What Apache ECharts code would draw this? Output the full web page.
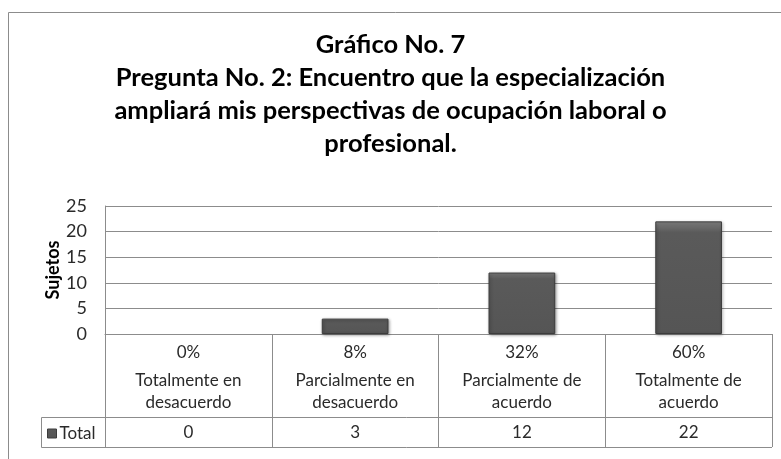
<!DOCTYPE html>
<html>
<head>
<meta charset="utf-8">
<script src="https://cdn.jsdelivr.net/npm/echarts@6/dist/echarts.min.js"></script>
<style>
html,body{margin:0;padding:0;background:#fff;}
#chart{width:781px;height:459px;}
</style>
</head>
<body>
<div id="chart"></div>
<script>
const titleLines = ['Gráfico No. 7', 'Pregunta No. 2: Encuentro que la especialización', 'ampliará mis perspectivas de ocupación laboral o', 'profesional.'];
const categories = ['Totalmente en\ndesacuerdo', 'Parcialmente en\ndesacuerdo', 'Parcialmente de\nacuerdo', 'Totalmente de\nacuerdo'];
const percents = ['0%', '8%', '32%', '60%'];
const totals = [0, 3, 12, 22];
const seriesName = 'Total';
const yAxisName = 'Sujetos';

const FONT = 'Lato';
const TXT = '#2a2a2a';
const chart = echarts.init(document.getElementById('chart'), null, {renderer: 'canvas'});

const barData = totals.map(v => v === 0
  ? {value: v, itemStyle: {borderWidth: 0, shadowBlur: 0, opacity: 0}}
  : v);

const option = {
  backgroundColor: '#fff',
  animation: false,
  textStyle: {fontFamily: FONT},
  title: {
    text: titleLines.join('\n'),
    left: 'center',
    top: 23,
    textStyle: {fontFamily: FONT, fontSize: 25.5, fontWeight: 'bold', color: '#000', lineHeight: 33}
  },
  legend: {
    data: [seriesName],
    left: 42,
    top: 420,
    icon: 'rect',
    itemWidth: 9,
    itemHeight: 9,
    itemGap: 4,
    itemStyle: {borderColor: '#3c3c3c', borderWidth: 1},
    textStyle: {fontFamily: FONT, fontSize: 17, color: TXT, padding: [0, 0, 0, -2]}
  },
  grid: {left: 105, right: 9, top: 206, bottom: 125, containLabel: false},
  xAxis: {
    type: 'category',
    data: categories,
    boundaryGap: true,
    axisLine: {show: true, lineStyle: {color: '#8c8c8c', width: 1}},
    axisTick: {show: true, length: 113, lineStyle: {color: '#8c8c8c', width: 1}},
    axisLabel: {
      interval: 0,
      margin: 2,
      formatter: function (v, i) {
        const parts = v.split('\n');
        return '{p|' + percents[i] + '}\n' + parts.map(s => '{c|' + s + '}').join('\n') + '\n{v|' + totals[i] + '}';
      },
      rich: {
        p: {fontFamily: FONT, fontSize: 17, color: TXT, lineHeight: 34},
        c: {fontFamily: FONT, fontSize: 17, color: TXT, lineHeight: 22},
        v: {fontFamily: FONT, fontSize: 17, color: TXT, lineHeight: 37}
      }
    }
  },
  yAxis: {
    type: 'value',
    min: 0,
    max: 25,
    interval: 5,
    name: yAxisName,
    nameLocation: 'middle',
    nameRotate: 90,
    nameGap: 43,
    nameMoveOverlap: false,
    nameTextStyle: {fontFamily: FONT, fontSize: 18, fontWeight: 'bold', color: '#000'},
    axisLine: {show: true, lineStyle: {color: '#8c8c8c', width: 1}},
    axisTick: {show: false},
    axisLabel: {fontFamily: FONT, fontSize: 18, color: TXT, margin: 18},
    splitLine: {show: true, lineStyle: {color: '#8c8c8c', width: 1}}
  },
  series: [{
    name: seriesName,
    type: 'bar',
    data: barData,
    barWidth: '40%',
    itemStyle: {
      color: {
        type: 'linear', x: 0, y: 0, x2: 0, y2: 1,
        colorStops: [
          {offset: 0, color: '#8a8a8a'},
          {offset: 0.04, color: '#6e6e6e'},
          {offset: 0.1, color: '#5a5a5a'},
          {offset: 1, color: '#555555'}
        ]
      },
      borderColor: '#3c3c3c',
      borderWidth: 1,
      shadowBlur: 3,
      shadowColor: 'rgba(0,0,0,0.35)',
      shadowOffsetX: 1,
      shadowOffsetY: 1
    }
  }],
  graphic: [
    {type: 'rect', silent: true, shape: {x: 8.5, y: 12.5, width: 800, height: 500}, style: {fill: 'none', stroke: '#8c8c8c', lineWidth: 1}},
    {type: 'line', silent: true, shape: {x1: 41.5, y1: 417.5, x2: 772, y2: 417.5}, style: {stroke: '#8c8c8c', lineWidth: 1}},
    {type: 'line', silent: true, shape: {x1: 41.5, y1: 447.5, x2: 772, y2: 447.5}, style: {stroke: '#8c8c8c', lineWidth: 1}},
    {type: 'line', silent: true, shape: {x1: 41.5, y1: 417.5, x2: 41.5, y2: 447.5}, style: {stroke: '#8c8c8c', lineWidth: 1}}
  ]
};
chart.setOption(option);
</script>
</body>
</html>
